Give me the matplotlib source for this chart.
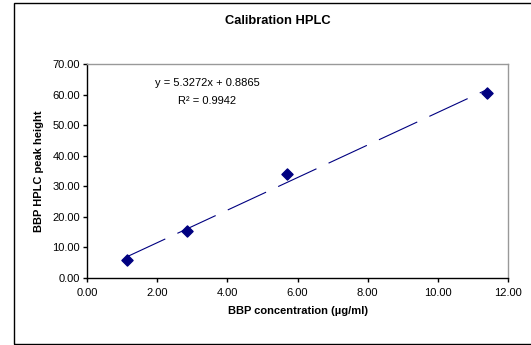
import matplotlib
matplotlib.use('Agg')
import matplotlib.pyplot as plt
from matplotlib.patches import Rectangle
import numpy as np

plt.rcParams['font.family'] = ['Liberation Sans', 'DejaVu Sans']

# 数据
conc = [1.14, 2.85, 5.70, 11.40]
peak = [5.9, 15.5, 33.9, 60.4]
slope = 5.3272
intercept = 0.8865
r2 = 0.9942
x_ticks = [0, 2, 4, 6, 8, 10, 12]
y_ticks = [0, 10, 20, 30, 40, 50, 60, 70]

fig = plt.figure(figsize=(5.31, 3.45), dpi=100)
# 外框
fig.patches.append(Rectangle((14 / 531, 1 / 345), 1.0, 341 / 345, transform=fig.transFigure,
                             fill=False, edgecolor='black', linewidth=1.0))

ax = fig.add_axes([87 / 531, 67 / 345, 421 / 531, 214 / 345])
navy = '#000080'

# 趋势线
xs = np.array([conc[0], conc[-1]])
ax.plot(xs, slope * xs + intercept, color=navy, linewidth=0.8, dashes=(38, 12))
ax.scatter(conc, peak, marker='D', s=32, color=navy, zorder=3)

ax.set_xlim(0, 12)
ax.set_ylim(0, 70)
ax.set_xticks(x_ticks)
ax.set_yticks(y_ticks)
ax.set_xticklabels(['%.2f' % v for v in x_ticks])
ax.set_yticklabels(['%.2f' % v for v in y_ticks])
ax.tick_params(labelsize=8, length=3, width=1, color='black', direction='out')
ax.tick_params(axis='x', pad=4)
ax.tick_params(axis='y', pad=2)

for side in ['left', 'bottom']:
    ax.spines[side].set_color('black')
    ax.spines[side].set_linewidth(1.0)
for side in ['top', 'right']:
    ax.spines[side].set_color('#999999')
    ax.spines[side].set_linewidth(1.0)

ax.set_xlabel('BBP concentration (µg/ml)', fontsize=8, fontweight='bold', labelpad=6)
ax.set_ylabel('BBP HPLC peak height', fontsize=8, fontweight='bold', labelpad=6)
fig.text(278 / 531, 1 - 21 / 345, 'Calibration HPLC', ha='center', va='center',
         fontsize=9.3, fontweight='bold')

ax.text(3.42, 63.8, 'y = %.4fx + %.4f' % (slope, intercept), ha='center', va='center', fontsize=8)
ax.text(3.42, 57.9, 'R² = %.4f' % r2, ha='center', va='center', fontsize=8)

fig.savefig('out.png', dpi=100)
